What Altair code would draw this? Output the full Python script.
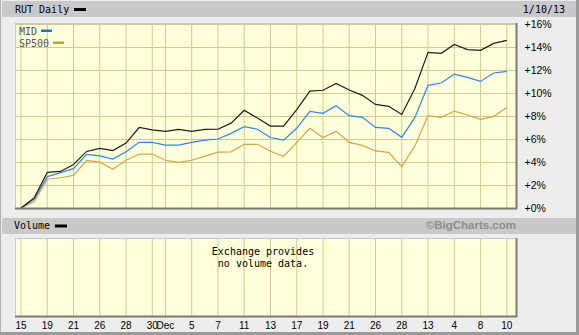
import altair as alt
import pandas as pd

# ---------------- data ----------------
day_idx = list(range(38))  # trading days 2012-11-15 .. 2013-01-10
rut = [0, 0.87, 3.1, 3.18, 3.78, 4.92, 5.19, 5.0, 5.65, 7.0, 6.8, 6.67, 6.84, 6.67, 6.84,
       6.85, 7.38, 8.5, 7.82, 7.12, 7.12, 8.56, 10.16, 10.24, 10.84, 10.26, 9.8, 9.01,
       8.84, 8.14, 10.4, 13.54, 13.45, 14.23, 13.77, 13.71, 14.32, 14.58]
mid = [0, 0.75, 2.72, 3.08, 3.42, 4.66, 4.53, 4.25, 4.9, 5.71, 5.71, 5.47, 5.47, 5.71, 5.9,
       6.0, 6.49, 7.08, 6.85, 6.13, 5.9, 6.93, 8.41, 8.24, 8.9, 8.03, 7.88, 7.01, 6.93,
       6.15, 7.88, 10.67, 10.87, 11.65, 11.36, 11.01, 11.74, 11.88]
sp500 = [0, 0.53, 2.5, 2.63, 2.84, 4.15, 3.99, 3.36, 4.15, 4.69, 4.69, 4.15, 3.97, 4.15, 4.51,
         4.86, 4.88, 5.54, 5.54, 4.94, 4.48, 5.7, 6.93, 6.13, 6.67, 5.71, 5.45, 4.96, 4.84,
         3.59, 5.39, 8.03, 7.88, 8.43, 8.09, 7.71, 7.97, 8.75]
series_names = ["SP500", "MID", "RUT"]
series_colors = ["#D6A447", "#2F86F0", "#1E1E1E"]

tick_idx = [0, 2, 4, 6, 8, 10, 11, 13, 15, 17, 19, 21, 23, 25, 27, 29, 31, 33, 35, 37]
tick_lab = ["15", "19", "21", "26", "28", "30", "Dec", "5", "7", "11", "13", "17", "19",
            "21", "26", "28", "13", "4", "8", "10"]
y_ticks = [0, 2, 4, 6, 8, 10, 12, 14, 16]

# ---------------- layout ----------------
W, H = 501, 185
X0, Y0 = 15, 23


def px(a):
    return a - X0


def py(a):
    return a - Y0


rows = []
for name, vals in zip(["SP500", "MID", "RUT"], [sp500, mid, rut]):
    for i, v in zip(day_idx, vals):
        rows.append({"idx": i, "value": v, "series": name})
df = pd.DataFrame(rows)
ticks_df = pd.DataFrame({"idx": tick_idx, "lab": tick_lab})
one = pd.DataFrame({"k": [0]})

GRID = "#CFCB8F"
PLOT_BG = "#FFFFDB"
xscale = alt.Scale(domain=[-0.457, 37.70], nice=False, zero=False)
yscale = alt.Scale(domain=[0, 16.09], nice=False, zero=False)


def rect(x, x2, y, y2, fill, stroke=None, sw=1):
    kw = {"fill": fill}
    if stroke:
        kw["stroke"] = stroke
        kw["strokeWidth"] = sw
    return alt.Chart(one).mark_rect(**kw).encode(
        x=alt.value(x), x2=alt.value(x2), y=alt.value(y), y2=alt.value(y2))


def rule(x, x2, y, y2, color, sw=1):
    return alt.Chart(one).mark_rule(color=color, strokeWidth=sw).encode(
        x=alt.value(x), x2=alt.value(x2), y=alt.value(y), y2=alt.value(y2))


def text(t, x, y, align="left", font="DejaVu Sans Mono", size=10, color="black", weight="normal"):
    return alt.Chart(one).mark_text(text=t, align=align, baseline="middle", font=font,
                                    fontSize=size, color=color, fontWeight=weight).encode(
        x=alt.value(x), y=alt.value(y))


layers = []
# outer frame
layers.append(rule(px(0.5), px(0.5), py(0), py(335), "#B0B0B0", 1))
layers.append(rule(px(577.5), px(577.5), py(0), py(335), "#9A9A9A", 3))
layers.append(rule(px(0), px(579), py(333.5), py(333.5), "#9A9A9A", 3))
# header bar
layers.append(rect(px(2), px(576), py(1), py(17), "#C9C9C9"))
layers.append(text("RUT Daily", px(15), py(9.5)))
layers.append(rect(px(74), px(86), py(8), py(11), "black"))
layers.append(text("1/10/13", px(565), py(9.5), align="right"))
# volume bar
layers.append(rect(px(2), px(576), py(218), py(234), "#C9C9C9"))
layers.append(text("Volume", px(14), py(226)))
layers.append(rect(px(55), px(67), py(224.5), py(227.5), "black"))
layers.append(text("©BigCharts.com", px(516), py(226), align="right", font="Liberation Sans",
                   size=11.5, color="#8C8C8C", weight="bold"))
# volume panel
layers.append(rect(px(15), px(516), py(238), py(316), PLOT_BG))

# vertical grids
layers.append(alt.Chart(ticks_df).mark_rule(color=GRID, strokeWidth=1).encode(
    x=alt.X("idx:Q", scale=xscale, axis=None), y=alt.value(0), y2=alt.value(H)))
layers.append(alt.Chart(ticks_df).mark_rule(color=GRID, strokeWidth=1).encode(
    x=alt.X("idx:Q", scale=xscale, axis=None), y=alt.value(py(238)), y2=alt.value(py(316))))

# volume panel frame
layers.append(rule(px(15), px(516), py(238.5), py(238.5), "#C8C8C8"))
layers.append(rule(px(15.5), px(15.5), py(238), py(316), "#C8C8C8"))
layers.append(rule(px(15), px(517), py(316.5), py(316.5), "#7A7A7A", 2))
layers.append(rule(px(516.5), px(516.5), py(238), py(317), "#7A7A7A", 2))
layers.append(text("Exchange provides", px(263), py(251.5), align="center"))
layers.append(text("no volume data.", px(263), py(263.5), align="center"))

# x labels
layers.append(alt.Chart(ticks_df).mark_text(baseline="middle", align="center",
                                             font="Liberation Sans", fontSize=10,
                                             color="black").encode(
    x=alt.X("idx:Q", scale=xscale, axis=None), y=alt.value(py(326)), text="lab:N"))

# lines
lines = alt.Chart(df).mark_line(strokeWidth=1.2, interpolate="linear").encode(
    x=alt.X("idx:Q", scale=xscale, axis=None),
    y=alt.Y("value:Q", scale=yscale,
            axis=alt.Axis(orient="right", values=y_ticks,
                          labelExpr="'+' + datum.value + '%'", grid=True, gridColor=GRID,
                          gridOpacity=1, ticks=False, domain=False, labelPadding=8,
                          labelFont="Liberation Sans", labelFontSize=10.5,
                          labelColor="black", title=None)),
    color=alt.Color("series:N", scale=alt.Scale(domain=series_names, range=series_colors),
                    legend=None),
    order=alt.Order("idx:Q"),
    detail="series:N",
)
layers.append(lines)

# main plot frame
layers.append(rule(0, W, 0.5, 0.5, "#C8C8C8"))
layers.append(rule(0.5, 0.5, 0, H, "#C8C8C8"))
layers.append(rule(0, W + 1, H + 0.5, H + 0.5, "#7A7A7A", 2))
layers.append(rule(W + 0.5, W + 0.5, 0, H + 1, "#7A7A7A", 2))

# legend
layers.append(text("MID", px(19), py(31.5), color="#555555"))
layers.append(rect(px(41), px(52), py(29.5), py(32), "#1C6EF2"))
layers.append(text("SP500", px(19), py(43.5), color="#555555"))
layers.append(rect(px(53), px(64), py(41.5), py(44), "#CC9933"))

chart = alt.layer(*layers).properties(
    width=W, height=H,
    autosize=alt.AutoSizeParams(type="none"),
    padding={"left": X0, "top": Y0, "right": 579 - X0 - W, "bottom": 335 - Y0 - H},
    background="#EDEDED",
).configure_view(fill=PLOT_BG, stroke=None)

chart.save("out.html", embed_options={"renderer": "svg", "actions": False})
